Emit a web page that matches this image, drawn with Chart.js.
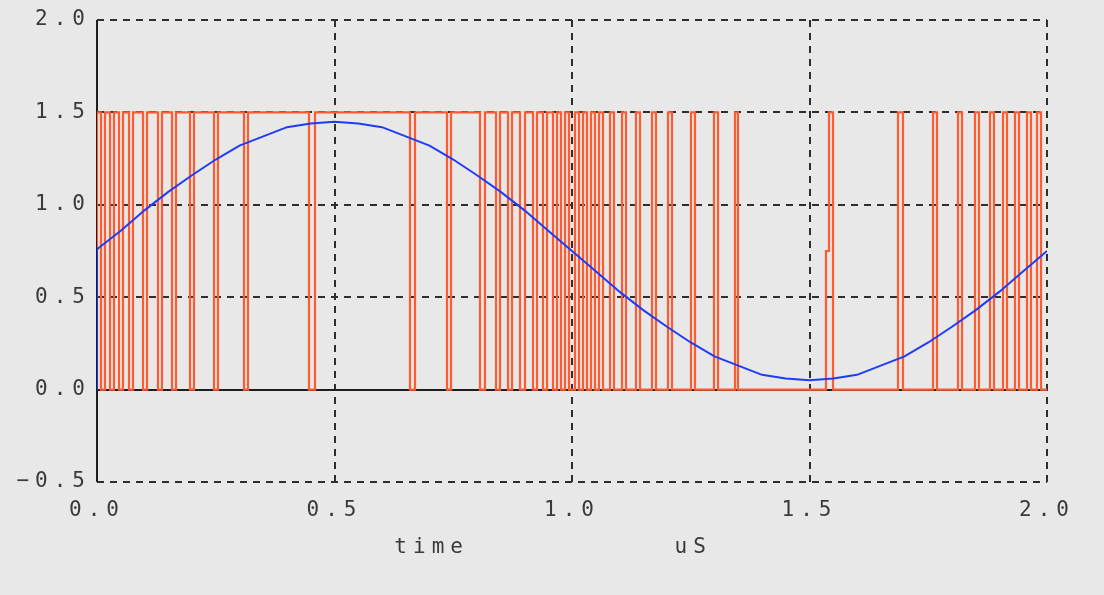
<!DOCTYPE html>
<html><head><meta charset="utf-8">
<script src="https://cdn.jsdelivr.net/npm/chart.js@4/dist/chart.umd.min.js"></script>
<style>html,body{margin:0;padding:0;background:#e8e8e8;}#wrap{width:1104px;height:595px;}</style>
</head><body><div id="wrap"><canvas id="c" width="1104" height="595"></canvas></div>
<script>
// ---- data ----
const xTicks = [0, 0.5, 1.0, 1.5, 2.0];
const yTicks = [-0.5, 0, 0.5, 1.0, 1.5, 2.0];
const xAxisWords = ['time', 'uS'];

// blue analog input (uS, value)
const sineTimes = [0,0,0.05,0.1,0.15,0.2,0.25,0.3,0.35,0.4,0.45,0.5,0.55,0.6,0.65,0.7,0.75,0.8,0.85,0.9,0.95,1.0,
  1.05,1.1,1.15,1.2,1.25,1.3,1.35,1.4,1.45,1.5,1.55,1.6,1.65,1.7,1.75,1.8,1.85,1.9,1.95,2.0];
const sineValues = [0,0.76,0.86,0.97,1.07,1.16,1.245,1.32,1.37,1.42,1.44,1.45,1.44,1.42,1.37,1.32,1.245,1.16,1.07,0.97,0.86,0.75,
  0.64,0.53,0.43,0.34,0.255,0.18,0.13,0.08,0.06,0.05,0.06,0.08,0.13,0.18,0.255,0.34,0.43,0.53,0.64,0.75];

// orange pulse stream: levels and edges (uS)
const pulseHigh = 1.5;
const pulseLow = 0;
// short drops to the low level while the stream is mostly high
const lowDips = [
  [0.0084,0.0168],[0.0274,0.0358],[0.0463,0.0547],[0.0674,0.0758],[0.0968,0.1053],[0.1284,0.1368],
  [0.1579,0.1663],[0.1958,0.2042],[0.2463,0.2547],[0.3095,0.3179],[0.4463,0.4589],[0.6589,0.6695],
  [0.7368,0.7453],[0.8063,0.8168],[0.84,0.8484],[0.8653,0.8737],[0.8905,0.9011],[0.9179,0.9263],
  [0.9389,0.9474],[0.96,0.9684],[0.9768,0.9853]
];
const switchLowAt = 0.9937;
// short pulses to the high level while the stream is mostly low
const highPulses = [
  [1.0063,1.0147],[1.0232,1.0316],[1.04,1.0484],[1.0568,1.0653],[1.08,1.0884],[1.1053,1.1137],
  [1.1347,1.1432],[1.1684,1.1768],[1.2021,1.2105],[1.2505,1.2589],[1.2989,1.3074],[1.3432,1.3495],
  [1.5410,1.5495],
  [1.6863,1.6968],[1.76,1.7684],[1.8126,1.8211],[1.8484,1.8568],[1.88,1.8884],[1.9074,1.9158],
  [1.9326,1.9411],[1.9579,1.9663],[1.9789,1.9874]
];
// the half-height step seen just before the 1.54 uS pulse
const halfStepTimes = [1.5347];
const halfStepLevels = [0.75];

// ---- build the stepped series from the edges ----
const pwmEvents = [{x: 0, y: pulseLow}, {x: 0, y: pulseHigh}];
lowDips.forEach(([a, b]) => { pwmEvents.push({x: a, y: pulseLow}, {x: b, y: pulseHigh}); });
pwmEvents.push({x: switchLowAt, y: pulseLow});
highPulses.forEach(([a, b]) => { pwmEvents.push({x: a, y: pulseHigh}, {x: b, y: pulseLow}); });
halfStepTimes.forEach((t, i) => pwmEvents.push({x: t, y: halfStepLevels[i]}));
pwmEvents.push({x: 2.0, y: pulseLow});
const pwmPoints = pwmEvents.map((p, i) => ({...p, k: i})).sort((p, q) => p.x - q.x || p.k - q.k)
  .map(p => ({x: p.x, y: p.y}));

// ---- styling ----
const FONT = 'DejaVu Sans Mono';
const TEXT_COLOR = '#3a3a3a';
const SPACING = '6px';

const spacingPlugin = {
  id: 'spacing',
  beforeUpdate(c){ c.ctx.letterSpacing = SPACING; },
  beforeLayout(c){ c.ctx.letterSpacing = SPACING; },
  beforeDraw(c){ c.ctx.letterSpacing = SPACING; }
};

const gridPlugin = {
  id: 'gridLines',
  beforeDatasetsDraw(c){
    const {ctx, chartArea:a, scales:{x, y}} = c;
    ctx.save();
    ctx.lineWidth = 2;
    ctx.strokeStyle = '#2e2e2e';
    ctx.setLineDash([7,6]);
    xTicks.forEach(v => {
      if (v === 0) return;
      const px = Math.round(x.getPixelForValue(v));
      ctx.beginPath(); ctx.moveTo(px, a.top); ctx.lineTo(px, a.bottom); ctx.stroke();
    });
    yTicks.forEach(v => {
      if (v === 0) return;
      const py = Math.round(y.getPixelForValue(v));
      ctx.beginPath(); ctx.moveTo(a.left, py); ctx.lineTo(a.right, py); ctx.stroke();
    });
    ctx.setLineDash([]);
    ctx.strokeStyle = '#1e1e1e';
    const x0 = Math.round(x.getPixelForValue(0));
    const y0 = Math.round(y.getPixelForValue(0));
    ctx.beginPath(); ctx.moveTo(x0, a.top); ctx.lineTo(x0, a.bottom); ctx.stroke();
    ctx.beginPath(); ctx.moveTo(a.left, y0); ctx.lineTo(a.right, y0); ctx.stroke();
    ctx.restore();
  }
};

const wordsPlugin = {
  id: 'axisWords',
  afterDraw(c){
    const {ctx, chartArea:a} = c;
    ctx.save();
    ctx.letterSpacing = SPACING;
    ctx.font = '21px "' + FONT + '"';
    ctx.fillStyle = TEXT_COLOR;
    ctx.textAlign = 'left';
    ctx.textBaseline = 'middle';
    const w = a.right - a.left;
    ctx.fillText(xAxisWords[0], a.left + 0.313 * w, 548);
    ctx.fillText(xAxisWords[1], a.left + 0.608 * w, 548);
    ctx.restore();
  }
};

const fmt = v => (v < 0 ? '\u2212' : '') + Math.abs(v).toFixed(1);

new Chart(document.getElementById('c'), {
  type: 'line',
  data: {
    datasets: [
      {
        data: sineTimes.map((t, i) => ({x: t, y: sineValues[i]})),
        borderColor: '#1f3cf5', borderWidth: 2, pointRadius: 0, tension: 0, fill: false
      },
      {
        data: pwmPoints,
        borderColor: '#ff5a30', borderWidth: 2.2, pointRadius: 0, stepped: 'before', fill: false
      }
    ]
  },
  options: {
    responsive: false,
    animation: false,
    devicePixelRatio: 1,
    layout: { padding: {left: 0, top: 20, right: 57, bottom: 0}, autoPadding: false },
    plugins: { legend: {display: false}, tooltip: {enabled: false} },
    scales: {
      x: {
        type: 'linear', min: 0, max: 2,
        afterBuildTicks: s => { s.ticks = xTicks.map(v => ({value: v})); },
        afterFit: s => { s.height = 113; },
        grid: {display: false}, border: {display: false},
        ticks: { callback: fmt, font: {family: FONT, size: 21}, color: TEXT_COLOR, padding: 8, maxRotation: 0, autoSkip: false }
      },
      y: {
        type: 'linear', min: -0.5, max: 2,
        afterBuildTicks: s => { s.ticks = yTicks.map(v => ({value: v})); },
        afterFit: s => { s.width = 97; },
        grid: {display: false}, border: {display: false},
        ticks: { callback: fmt, font: {family: FONT, size: 21}, color: TEXT_COLOR, padding: -2, autoSkip: false }
      }
    }
  },
  plugins: [spacingPlugin, gridPlugin, wordsPlugin]
});
</script></body></html>
